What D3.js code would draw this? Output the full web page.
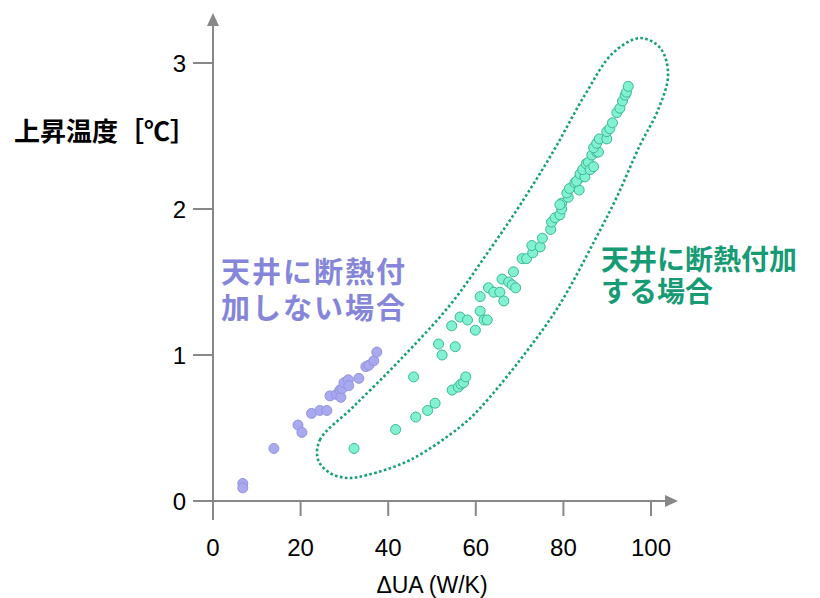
<!DOCTYPE html>
<html>
<head>
<meta charset="utf-8">
<script src="https://cdn.jsdelivr.net/npm/d3@7"></script>
<style>
  body { margin: 0; background: #fff; }
  svg { display: block; }
</style>
</head>
<body>
<div class="container"></div>
<script>
// without ceiling insulation (purple)
const noInsX = [6.8, 6.8, 13.9, 19.4, 20.3, 22.5, 24.4, 26.0, 26.7, 28.2, 29.0, 29.2, 29.5, 29.9, 30.9, 31.0, 33.3, 34.9, 35.6, 36.7, 37.4];
const noInsY = [0.12, 0.09, 0.36, 0.52, 0.47, 0.60, 0.62, 0.62, 0.72, 0.73, 0.76, 0.71, 0.77, 0.81, 0.83, 0.79, 0.84, 0.92, 0.93, 0.96, 1.02];

// with ceiling insulation (green)
const insX = [32.2, 41.7, 46.3, 49.0, 50.7, 45.8, 54.6, 56.0, 56.6, 57.2, 57.7, 51.5, 52.3, 55.3, 54.5, 56.4, 58.1, 59.9,
  61.0, 61.9, 62.6, 61.0, 62.9, 64.1, 65.5, 66.4, 66.0, 67.5, 68.3, 69.1, 68.6, 70.6, 71.6, 73.0, 72.8, 74.7, 75.2,
  77.1, 77.3, 78.1, 79.2, 79.6, 79.6, 79.2, 81.1, 80.8, 81.4, 82.6, 83.6, 83.6, 83.0, 83.8, 84.9, 84.4, 85.2, 85.7,
  86.1, 86.9, 86.5, 87.6, 88.0, 86.9, 87.6, 88.2, 89.9, 89.9, 90.6, 91.2, 92.2, 92.9, 93.5, 94.1, 94.4, 94.8];
const insY = [0.36, 0.49, 0.575, 0.62, 0.67, 0.85, 0.76, 0.78, 0.80, 0.81, 0.85, 1.075, 1.00, 1.057, 1.20, 1.26, 1.24, 1.17,
  1.30, 1.24, 1.24, 1.40, 1.46, 1.43, 1.43, 1.37, 1.52, 1.50, 1.48, 1.46, 1.57, 1.66, 1.66, 1.70, 1.75, 1.74, 1.80,
  1.86, 1.91, 1.94, 1.96, 2.00, 2.04, 2.03, 2.08, 2.11, 2.14, 2.18, 2.13, 2.21, 2.19, 2.24, 2.22, 2.27, 2.31, 2.32,
  2.27, 2.29, 2.37, 2.39, 2.39, 2.42, 2.45, 2.48, 2.48, 2.53, 2.55, 2.59, 2.66, 2.69, 2.74, 2.78, 2.80, 2.84];

// dotted enclosure around the green group (data units)
const hullX = [24.0, 24.4, 32.0, 42.7, 54.1, 62.8, 70.1, 77.6, 84.9, 91.3, 97.5, 102.1, 103.9, 101.6, 97.5, 92.2,
  87.2, 78.8, 70.1, 61.0, 56.4, 45.0, 35.2, 30.6, 26.7];
const hullY = [0.281, 0.418, 0.644, 0.966, 1.342, 1.705, 2.027, 2.390, 2.781, 3.068, 3.171, 3.103, 2.920, 2.678, 2.438,
  2.082, 1.788, 1.329, 0.966, 0.637, 0.507, 0.281, 0.178, 0.158, 0.192];

const xTicks = [0, 20, 40, 60, 80, 100];
const yTicks = [0, 1, 2, 3];

const width = 820, height = 598;
const axisColor = "#888";

const x = d3.scaleLinear().domain([0, 100]).range([213, 651]);
const y = d3.scaleLinear().domain([0, 3]).range([501, 63]);

const svg = d3.select(".container")
  .append("svg")
  .attr("width", width)
  .attr("height", height)
  .style("font-family", "'Liberation Sans', Arial, sans-serif");

// axes lines with arrow heads
const gAxis = svg.append("g").attr("stroke", axisColor).attr("stroke-width", 2);
gAxis.append("line").attr("x1", 193).attr("x2", 668).attr("y1", y(0)).attr("y2", y(0));
gAxis.append("line").attr("x1", x(0)).attr("x2", x(0)).attr("y1", 520).attr("y2", 24);
svg.append("path")
  .attr("fill", axisColor)
  .attr("d", `M${x(0)},13 L${x(0) - 6},26 L${x(0) + 6},26 Z`);
svg.append("path")
  .attr("fill", axisColor)
  .attr("d", `M678,${y(0)} L665,${y(0) - 6} L665,${y(0) + 6} Z`);

// ticks
gAxis.selectAll(".xt").data(xTicks.slice(1)).join("line")
  .attr("x1", d => x(d)).attr("x2", d => x(d))
  .attr("y1", y(0)).attr("y2", y(0) + 15);
gAxis.selectAll(".yt").data(yTicks).join("line")
  .attr("x1", x(0) - 20).attr("x2", x(0))
  .attr("y1", d => y(d)).attr("y2", d => y(d));

svg.append("g")
  .selectAll("text").data(xTicks).join("text")
  .attr("x", d => x(d)).attr("y", 556)
  .attr("text-anchor", "middle")
  .attr("font-size", 24)
  .text(d => d);

svg.append("g")
  .selectAll("text").data(yTicks).join("text")
  .attr("x", 186).attr("y", d => y(d) + 9)
  .attr("text-anchor", "end")
  .attr("font-size", 24)
  .text(d => d);

svg.append("text")
  .attr("x", 432).attr("y", 593)
  .attr("text-anchor", "middle")
  .attr("font-size", 23)
  .text("ΔUA (W/K)");

svg.append("text")
  .attr("x", 14).attr("y", 141)
  .attr("font-family", "'Noto Sans CJK JP', sans-serif")
  .attr("font-weight", "bold")
  .attr("font-size", 26)
  .text("上昇温度［℃］");

// enclosure
const hull = d3.line()
  .x(d => x(d[0]))
  .y(d => y(d[1]))
  .curve(d3.curveCatmullRomClosed.alpha(0.5));
svg.append("path")
  .attr("d", hull(d3.zip(hullX, hullY)))
  .attr("fill", "none")
  .attr("stroke", "#16a07a")
  .attr("stroke-width", 2.6)
  .attr("stroke-dasharray", "2.6 2.4");

// points
svg.append("g")
  .selectAll("circle").data(d3.zip(noInsX, noInsY)).join("circle")
  .attr("cx", d => x(d[0])).attr("cy", d => y(d[1]))
  .attr("r", 5)
  .attr("fill", "#a9a9ef")
  .attr("stroke", "#9494e0")
  .attr("stroke-width", 1);

svg.append("g")
  .selectAll("circle").data(d3.zip(insX, insY)).join("circle")
  .attr("cx", d => x(d[0])).attr("cy", d => y(d[1]))
  .attr("r", 5)
  .attr("fill", "#80f2d2")
  .attr("stroke", "#3cb894")
  .attr("stroke-width", 1);

// annotations
const cjk = "'Noto Sans CJK JP', sans-serif";
svg.append("g")
  .attr("font-family", cjk).attr("font-weight", "bold").attr("font-size", 29)
  .attr("fill", "#8585da").attr("letter-spacing", 2)
  .selectAll("text").data(["天井に断熱付", "加しない場合"]).join("text")
  .attr("x", 221).attr("y", (d, i) => 283 + i * 36)
  .text(d => d);

svg.append("g")
  .attr("font-family", cjk).attr("font-weight", "bold").attr("font-size", 28)
  .attr("fill", "#179b74")
  .selectAll("text").data(["天井に断熱付加", "する場合"]).join("text")
  .attr("x", 601).attr("y", (d, i) => 270 + i * 32)
  .text(d => d);
</script>
</body>
</html>
